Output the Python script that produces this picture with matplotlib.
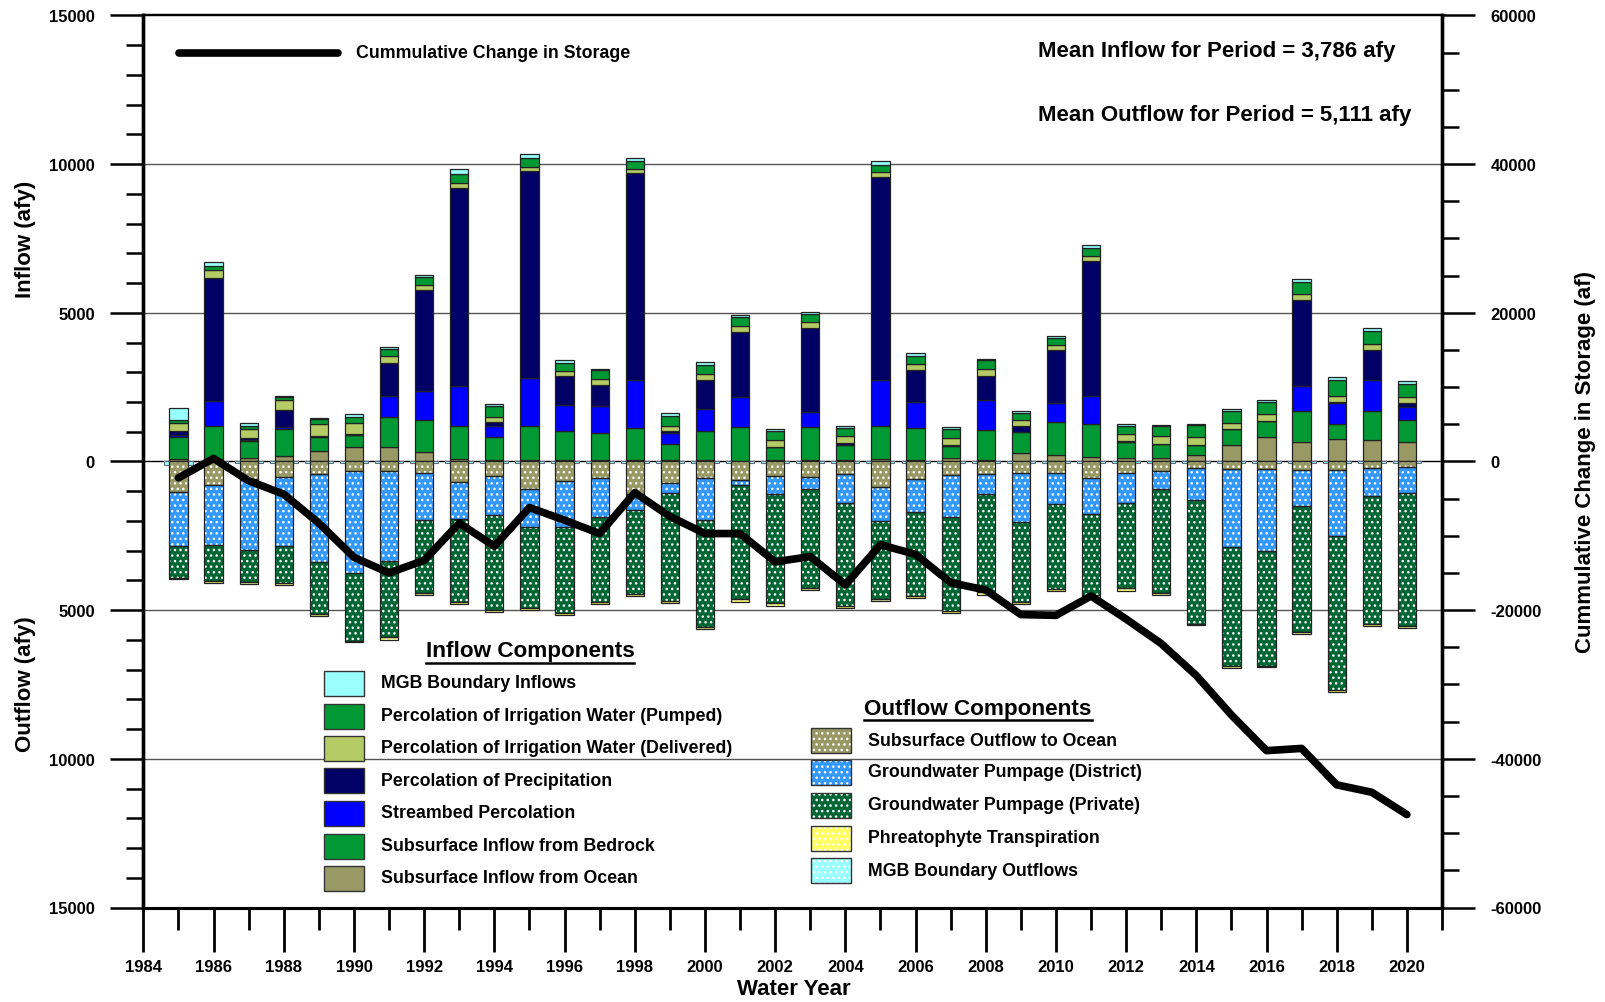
import numpy as np
import matplotlib
matplotlib.use("Agg")
import matplotlib.pyplot as plt
from matplotlib.patches import Rectangle
from matplotlib.lines import Line2D
from matplotlib.ticker import MultipleLocator, FuncFormatter

plt.rcParams['font.family'] = ['Liberation Sans', 'DejaVu Sans']
plt.rcParams['font.weight'] = 'bold'
plt.rcParams['hatch.linewidth'] = 1.0

# ---------------- data ----------------
years = list(range(1985, 2021))

# inflow components (afy)
mgb_in = [410, 146, 100, 45, 45, 75, 75, 90, 175, 75, 130, 100, 30, 100, 100, 90, 60, 45,
          45, 45, 145, 115, 90, 45, 75, 75, 100, 75, 45, 45, 60, 75, 115, 100, 100, 100]
irr_pumped = [100, 130, 100, 100, 145, 220, 220, 250, 290, 350, 305, 290, 320, 290, 335, 290, 320, 320,
              275, 290, 220, 260, 290, 305, 235, 250, 275, 275, 350, 410, 410, 395, 410, 540, 440, 425]
irr_delivered = [260, 260, 290, 320, 410, 350, 235, 175, 175, 190, 130, 160, 175, 130, 175, 220, 205, 220,
                 205, 235, 190, 190, 220, 220, 205, 175, 160, 220, 250, 260, 205, 220, 205, 205, 190, 220]
precip = [145, 4155, 60, 570, 30, 30, 1110, 3410, 6660, 130, 6970, 975, 715, 6955, 45, 950, 2170, 0,
          2830, 60, 6825, 1095, 45, 830, 190, 1780, 4550, 30, 0, 0, 0, 0, 2885, 30, 1020, 130]
streambed = [60, 830, 45, 90, 0, 0, 715, 960, 1330, 365, 1605, 875, 905, 1605, 365, 760, 1005, 0,
             495, 0, 1530, 860, 0, 990, 0, 640, 950, 0, 0, 0, 0, 0, 830, 715, 1020, 435]
bedrock = [740, 1110, 555, 875, 480, 425, 1005, 1080, 1110, 760, 1140, 975, 920, 1095, 555, 975, 1140, 450,
           1120, 510, 1120, 1065, 395, 1005, 715, 1095, 1110, 540, 465, 350, 510, 555, 1065, 495, 990, 745]
ocean_in = [90, 90, 130, 200, 350, 480, 495, 320, 90, 60, 45, 45, 45, 45, 45, 45, 30, 45,
            45, 45, 75, 60, 130, 60, 290, 220, 145, 130, 130, 205, 570, 815, 640, 760, 715, 640]

# outflow components (afy, plotted downward)
ocean_out = [1035, 790, 600, 525, 410, 335, 335, 395, 700, 480, 935, 670, 570, 1080, 715, 570, 625, 495,
             525, 420, 845, 600, 465, 420, 380, 380, 555, 395, 305, 235, 260, 260, 275, 275, 235, 190]
pump_district = [1820, 2030, 2380, 2330, 2960, 3400, 3000, 1560, 1250, 1310, 1285, 1530, 1310, 555, 350, 1415, 160, 585,
                 410, 975, 1165, 1095, 1415, 685, 1650, 1050, 1210, 1005, 625, 1050, 2625, 2740, 1225, 2230, 935, 875]
pump_private = [1050, 1195, 1080, 1240, 1750, 2290, 2580, 2465, 2770, 3190, 2710, 2890, 2830, 2830, 3630, 3570, 3850, 3690,
                3325, 3470, 2610, 2830, 3135, 3295, 2680, 2845, 2740, 2870, 3500, 4170, 4010, 3865, 4230, 5190, 4300, 4475]
phreat = [60, 75, 60, 60, 75, 60, 75, 75, 75, 75, 75, 75, 75, 75, 75, 75, 75, 75,
          75, 75, 75, 75, 75, 75, 75, 90, 75, 75, 75, 60, 60, 60, 75, 60, 75, 60]
mgb_out = [110, 40, 40, 40, 40, 40, 40, 40, 40, 40, 40, 40, 40, 40, 40, 40, 40, 40,
           40, 40, 40, 40, 40, 40, 40, 40, 40, 40, 40, 40, 40, 40, 40, 40, 40, 40]

# cumulative change in storage (af)
cum_storage = [-2200, 400, -2600, -4400, -8300, -12900, -15000, -13300, -8300, -11400, -6200, -7900,
               -9700, -4200, -7400, -9700, -9700, -13500, -12800, -16600, -11200, -12500, -16300, -17300,
               -20600, -20700, -18100, -21200, -24500, -28800, -34100, -38900, -38600, -43500, -44500, -47500]

inflow_labels = ["MGB Boundary Inflows", "Percolation of Irrigation Water (Pumped)",
                 "Percolation of Irrigation Water (Delivered)", "Percolation of Precipitation",
                 "Streambed Percolation", "Subsurface Inflow from Bedrock", "Subsurface Inflow from Ocean"]
outflow_labels = ["Subsurface Outflow to Ocean", "Groundwater Pumpage (District)",
                  "Groundwater Pumpage (Private)", "Phreatophyte Transpiration", "MGB Boundary Outflows"]

# ---------------- styles ----------------
C_MGB = '#99FFFF'
C_PUMPED = '#009933'
C_DELIV = '#B5CC66'
C_PRECIP = '#000066'
C_STREAM = '#0000FF'
C_BEDROCK = '#009933'
C_OCEAN = '#999966'
C_DIST = '#3399FF'
C_PRIV = '#006633'
C_PHREAT = '#FFFF66'
HATCH = '...'

W = 1606
H = 1003
fig = plt.figure(figsize=(W / 100, H / 100), dpi=100)

def fx(px):
    return px / W

def fy(py):
    return 1 - py / H

left, right, top, bottom = 143.4, 1442.0, 16.4, 908.5
ax = fig.add_axes([fx(left), fy(bottom), fx(right) - fx(left), fy(top) - fy(bottom)])
ax2 = ax.twinx()

x = np.array(years, dtype=float)
bw = 0.52

# grid lines
for gv in [10000, 5000, -5000, -10000]:
    ax.axhline(gv, color='#555555', lw=1.0, zorder=0)
ax.axhline(0, color='black', lw=1.0, zorder=0.5)

# MGB outflows (wide thin bars just below zero)
ax.bar(x, -np.array(mgb_out), width=0.8, bottom=0, color=C_MGB, edgecolor='white',
       hatch=HATCH, lw=0, zorder=1)
ax.bar(x, -np.array(mgb_out), width=0.8, bottom=0, fill=False, edgecolor='#607080',
       lw=0.8, zorder=1.1)

# inflow stack (bottom to top)
in_stack = [(ocean_in, C_OCEAN), (bedrock, C_BEDROCK), (streambed, C_STREAM), (precip, C_PRECIP),
            (irr_delivered, C_DELIV), (irr_pumped, C_PUMPED), (mgb_in, C_MGB)]
base = np.zeros(len(years))
for vals, col in in_stack:
    v = np.array(vals, dtype=float)
    ax.bar(x, v, width=bw, bottom=base, color=col, edgecolor='#222222', lw=0.9, zorder=2)
    base += v

# outflow stack (from zero downward)
out_stack = [(ocean_out, C_OCEAN), (pump_district, C_DIST), (pump_private, C_PRIV), (phreat, C_PHREAT)]
base = np.zeros(len(years))
for vals, col in out_stack:
    v = -np.array(vals, dtype=float)
    ax.bar(x, v, width=bw, bottom=base, color=col, edgecolor='white', hatch=HATCH, lw=0, zorder=2)
    ax.bar(x, v, width=bw, bottom=base, fill=False, edgecolor='#222222', lw=0.9, zorder=2.1)
    base += v

# cumulative line
ax2.plot(x, cum_storage, color='black', lw=5.5, zorder=5, solid_capstyle='round')

# ---------------- axes ----------------
ax.set_xlim(1984, 2021)
ax.set_ylim(-15000, 15000)
ax2.set_ylim(-60000, 60000)

ax.xaxis.set_major_locator(MultipleLocator(2))
ax.xaxis.set_minor_locator(MultipleLocator(1))
ax.yaxis.set_major_locator(MultipleLocator(5000))
ax.yaxis.set_minor_locator(MultipleLocator(1000))
ax.yaxis.set_major_formatter(FuncFormatter(lambda v, p: f"{abs(int(round(v)))}"))
ax2.yaxis.set_major_locator(MultipleLocator(20000))
ax2.yaxis.set_minor_locator(MultipleLocator(5000))
ax2.yaxis.set_major_formatter(FuncFormatter(lambda v, p: f"{int(round(v))}"))

ax.tick_params(axis='x', which='major', direction='out', length=32, width=2.0, labelsize=12, pad=5)
ax.tick_params(axis='x', which='minor', direction='out', length=16, width=2.0)
ax.tick_params(axis='y', which='major', direction='out', length=24, width=1.8, labelsize=12, pad=11)
ax.tick_params(axis='y', which='minor', direction='out', length=12, width=1.8)
ax2.tick_params(axis='y', which='major', direction='out', length=24, width=1.8, labelsize=12, pad=11)
ax2.tick_params(axis='y', which='minor', direction='out', length=12, width=1.8)

for a in (ax, ax2):
    a.spines['left'].set_linewidth(2.4)
    a.spines['right'].set_linewidth(2.4)
    a.spines['top'].set_linewidth(1.6)
    a.spines['bottom'].set_linewidth(2.2)

for lab in ax.get_xticklabels() + ax.get_yticklabels() + ax2.get_yticklabels():
    lab.set_fontweight('bold')

# axis titles
fig.text(fx(26), fy(239), "Inflow (afy)", rotation=90, ha='center', va='center', fontsize=16, fontweight='bold')
fig.text(fx(26), fy(684), "Outflow (afy)", rotation=90, ha='center', va='center', fontsize=16, fontweight='bold')
fig.text(fx(1586), fy(462), "Cummulative Change in Storage (af)", rotation=90, ha='center', va='center',
         fontsize=16, fontweight='bold')
fig.text(fx(794), fy(990), "Water Year", ha='center', va='center', fontsize=16, fontweight='bold')

# mean texts
fig.text(fx(1038), fy(51), "Mean Inflow for Period = 3,786 afy", ha='left', va='center', fontsize=16, fontweight='bold')
fig.text(fx(1038), fy(116), "Mean Outflow for Period = 5,111 afy", ha='left', va='center', fontsize=16, fontweight='bold')

# top legend (line)
fig.add_artist(Line2D([fx(179), fx(338)], [fy(54), fy(54)], color='black', lw=5.5,
                      solid_capstyle='round', transform=fig.transFigure))
fig.text(fx(356), fy(54), "Cummulative Change in Storage", ha='left', va='center', fontsize=12.8, fontweight='bold')

# inflow / outflow legends
def legend_title(cx, cy, text):
    t = fig.text(fx(cx), fy(cy), text, ha='center', va='center', fontsize=16.2, fontweight='bold')
    fig.canvas.draw()
    bb = t.get_window_extent(renderer=fig.canvas.get_renderer())
    fig.add_artist(Line2D([bb.x0 / W, bb.x1 / W], [fy(cy + 12), fy(cy + 12)], color='black', lw=1.8,
                          transform=fig.transFigure))

legend_title(530, 652, "Inflow Components")
legend_title(978, 709, "Outflow Components")

in_cols = [C_MGB, C_PUMPED, C_DELIV, C_PRECIP, C_STREAM, C_BEDROCK, C_OCEAN]
in_y = [684, 717, 749, 781.5, 814, 847, 879]
for lab, col, yy in zip(inflow_labels, in_cols, in_y):
    fig.add_artist(Rectangle((fx(324), fy(yy + 12.5)), 40 / W, 25 / H, transform=fig.transFigure,
                             facecolor=col, edgecolor='#333333', lw=1.0))
    fig.text(fx(381), fy(yy), lab, ha='left', va='center', fontsize=12.8, fontweight='bold')

out_cols = [C_OCEAN, C_DIST, C_PRIV, C_PHREAT, C_MGB]
out_y = [741.5, 773, 806, 839, 871.6]
for lab, col, yy in zip(outflow_labels, out_cols, out_y):
    fig.add_artist(Rectangle((fx(811), fy(yy + 12.5)), 40 / W, 25 / H, transform=fig.transFigure,
                             facecolor=col, edgecolor='white', hatch=HATCH, lw=0))
    fig.add_artist(Rectangle((fx(811), fy(yy + 12.5)), 40 / W, 25 / H, transform=fig.transFigure,
                             fill=False, edgecolor='#333333', lw=1.0))
    fig.text(fx(868), fy(yy), lab, ha='left', va='center', fontsize=12.8, fontweight='bold')

fig.savefig("out.png", dpi=100)
